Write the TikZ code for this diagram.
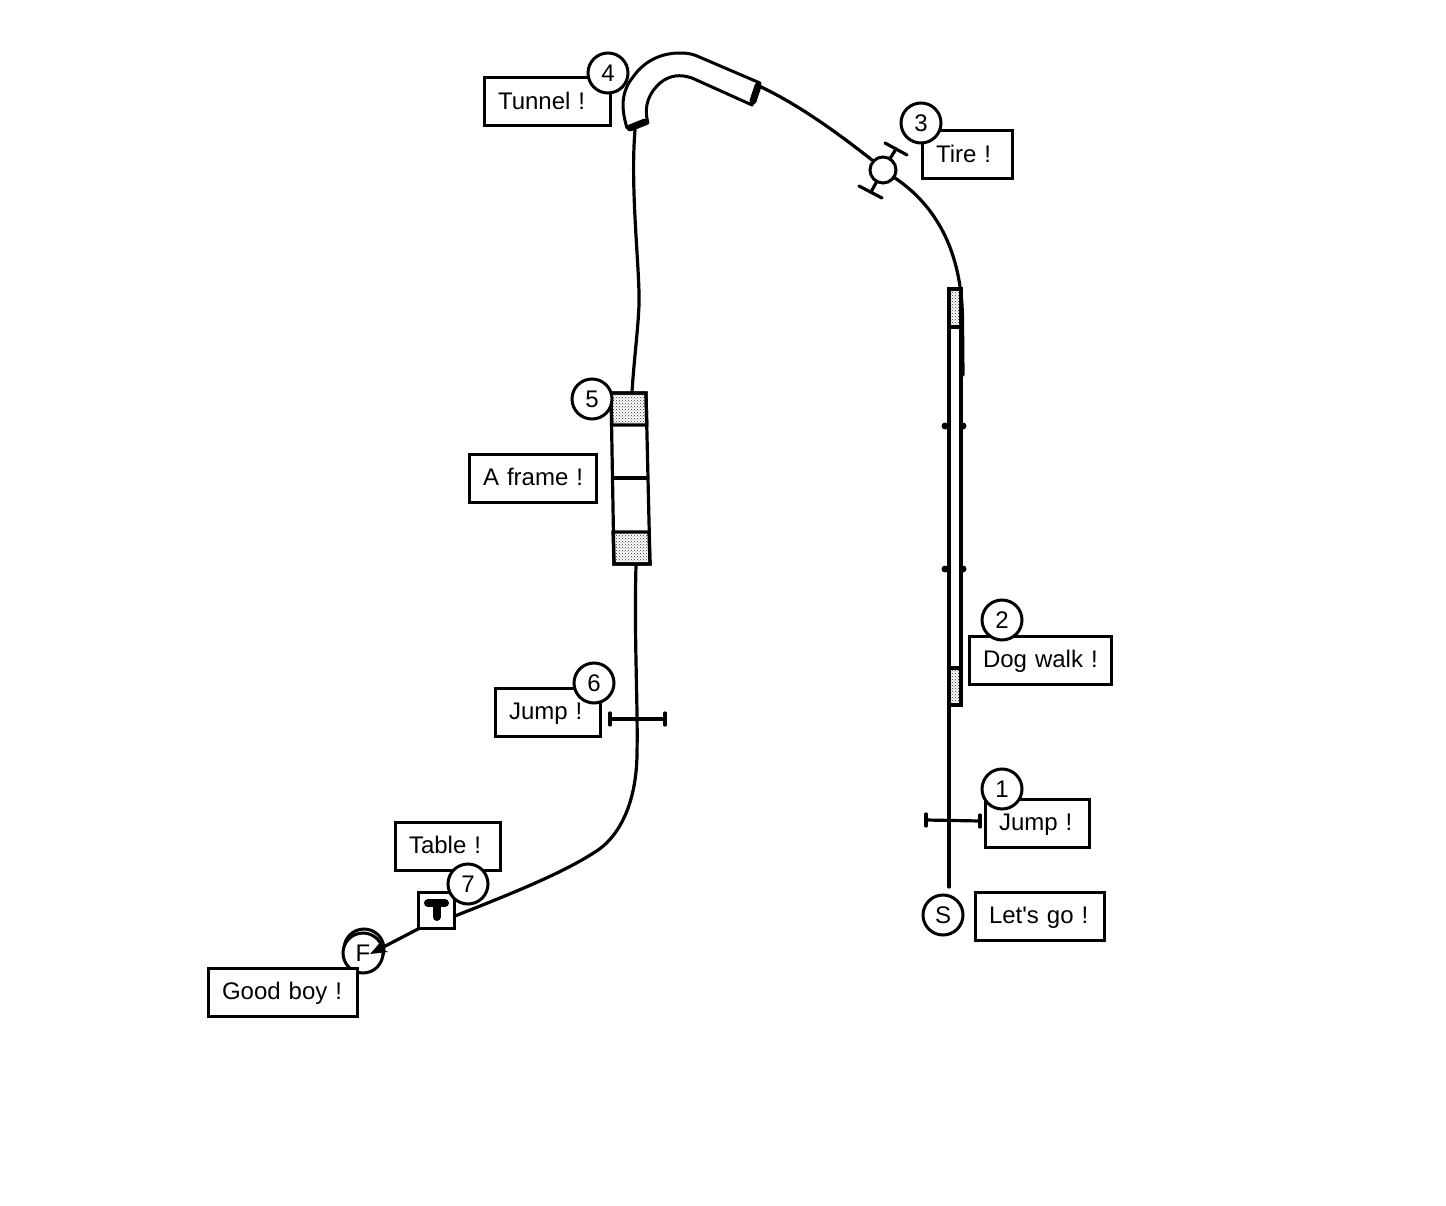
\documentclass[tikz,border=0pt]{standalone}
\usepackage{fontspec}
\setmainfont{Liberation Sans}
\usetikzlibrary{patterns,arrows.meta}
\tikzset{
  track/.style={line width=3.2pt,line cap=round,line join=round},
  lbl/.style={draw,fill=white,line width=3pt,outer sep=0pt,anchor=north west,align=left,inner xsep=14pt,inner ysep=0pt,
    minimum height=48pt,text height=19pt,text depth=4pt,font=\fontsize{24}{26}\selectfont},
  num/.style={circle,draw,fill=white,line width=3pt,minimum size=40pt,inner sep=0pt,font=\fontsize{24}{26}\selectfont},
  dotted fill/.style={pattern=crosshatch dots,pattern color=black!80},
  plank/.style={draw,line width=3.2pt,line join=miter},
  post/.style={circle,fill=black,inner sep=0pt,minimum size=7pt},
}
\begin{document}
\begin{tikzpicture}[x=1pt,y=-1pt]
\useasboundingbox (0,0) rectangle (1446,1206);
% named points of the course
\coordinate (start) at (949,887);
\coordinate (dogin) at (949,705);
\coordinate (dogout) at (963,375);
\coordinate (tirein) at (895,178);
\coordinate (tireout) at (872,160);
\coordinate (tunnelin) at (757,85);
\coordinate (tunnelout) at (635,130);
\coordinate (framein) at (632,392);
\coordinate (frameout) at (636,565);
\coordinate (tablein) at (455,916);
\coordinate (tableout) at (418,929);
\coordinate (finish) at (370,954);
% course line
\draw[track] (start) -- (dogin);
\draw[track] (dogout) -- (962.5,320) .. controls (962,250) and (935,205) .. (tirein);
\draw[track] (tireout) .. controls (840,135) and (800,105) .. (tunnelin);
\draw[track] (tunnelout) .. controls (630,190) and (640,270) .. (639,305) .. controls (638,330) and (634,360) .. (framein);
\draw[track] (frameout) .. controls (634,640) and (638,700) .. (637,755) .. controls (636,810) and (615,840) .. (595,852) .. controls (560,875) and (500,898) .. (tablein);
% jumps
\draw[track] (926,820) -- (980,821);
\draw[track] (926,814) -- (926,826) (980,815) -- (980,827);
\draw[track] (610,719) -- (665,719);
\draw[track] (610,713) -- (610,725) (665,713) -- (665,725);
% dog walk
\node[post] (d1) at (945,426) {};
\node[post] (d2) at (963,426) {};
\node[post] (d3) at (945,569) {};
\node[post] (d4) at (963,569) {};
\draw[plank,fill=white] (949,289) rectangle (961,705);
\draw[plank,dotted fill] (949,289) rectangle (961,327);
\draw[plank,dotted fill] (949,668) rectangle (961,705);
% tire
\draw[track] (896,149) -- (883,170) -- (871,192);
\draw[track] (885,143) -- (907,155);
\draw[track] (859,186) -- (882,198);
\node[circle,draw,fill=white,line width=3pt,minimum size=26pt,inner sep=0pt] (tire) at (883,170) {};
% tunnel
\draw[line width=3pt,line join=round,fill=white]
  (627,128) .. controls (621,108) and (621,92) .. (633,77)
  .. controls (645,60) and (662,53) .. (680,53)
  .. controls (688,53) and (692,54) .. (697,56) -- (760,83)
  -- (752,105) -- (692,78)
  .. controls (680,74) and (670,75) .. (660,83)
  .. controls (650,92) and (643,105) .. (648,123) -- cycle;
\draw[line width=7pt,line cap=round] (630,128) -- (645,122);
\draw[line width=7pt,line cap=round] (758,86) -- (753,101);
% a-frame
\draw[plank,fill=white] (611,393) -- (646,393) -- (650,564) -- (614,564) -- cycle;
\draw[plank,dotted fill] (611,393) -- (646,393) -- (646.8,425) -- (611.8,425) -- cycle;
\draw[plank,dotted fill] (613,532) -- (649,532) -- (650,564) -- (614,564) -- cycle;
\draw[plank] (612,478) -- (648,478);
% table
\node[draw,fill=white,line width=3pt,minimum size=36pt,inner sep=0pt] (table) at (436.5,910.5) {};
\draw[line width=8pt,line cap=round] (428,903) -- (445,903);
\draw[line width=8pt,line cap=round] (436.5,903) -- (436.5,917);
% labels
\node[lbl,text width=98pt] (ltunnel) at (484,78) {\mbox{Tunnel !}};
\node[lbl,text width=62pt] (ltire) at (922,131) {\mbox{Tire !}};
\node[lbl,text width=99pt] (lframe) at (469,454) {\mbox{A frame !}};
\node[lbl,text width=77pt] (ljump6) at (495,688) {\mbox{Jump !}};
\node[lbl,text width=77pt] (ltable) at (395,822) {\mbox{Table !}};
\node[lbl,text width=114pt] (ldog) at (969,636) {\mbox{Dog walk !}};
\node[lbl,text width=76pt] (ljump1) at (985,799) {\mbox{Jump !}};
\node[lbl,text width=101pt] (lgo) at (975,892) {\mbox{Let\textquotesingle s go !}};
% numbered circles
\node[num] (n4) at (608,73) {4};
\node[num] (n3) at (921,123) {3};
\node[num] (n5) at (592,399) {5};
\node[num] (n6) at (594,683) {6};
\node[num] (n7) at (468,884) {7};
\node[num] (n2) at (1002,620) {2};
\node[num] (n1) at (1002,789) {1};
\node[num] (nS) at (943,915) {S};
% finish
\node[num] (nFb) at (364,949) {};
\node[num] (nF) at (363,953) {F};
\node[lbl,text width=121pt] (lgood) at (208,968) {\mbox{Good boy !}};
\draw[track,-{Stealth[length=17pt,width=13pt]}] (tableout) -- (finish);
\end{tikzpicture}
\end{document}
